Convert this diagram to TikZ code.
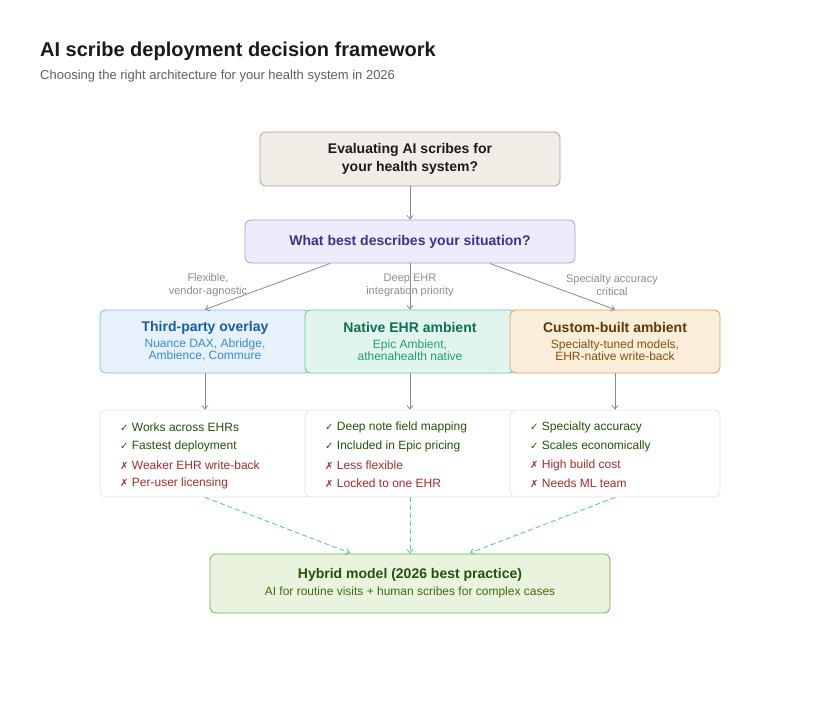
\documentclass[tikz,border=0pt]{standalone}
\usepackage{fontspec}
\setmainfont{Liberation Sans}
\newfontfamily\symf{DejaVu Sans}
\usetikzlibrary{arrows.meta}
\definecolor{tbfill}{HTML}{F0EDE6}\definecolor{tbdraw}{HTML}{A8A29A}
\definecolor{qfill}{HTML}{EEEBFD}\definecolor{qdraw}{HTML}{A59BE8}\definecolor{qtext}{HTML}{3C3489}
\definecolor{bfill}{HTML}{E6F1FB}\definecolor{bdraw}{HTML}{85B7EB}\definecolor{btit}{HTML}{185FA5}\definecolor{bsub}{HTML}{378ADD}
\definecolor{gfill}{HTML}{E1F5EE}\definecolor{gdraw}{HTML}{5DCAA5}\definecolor{gtit}{HTML}{0F6E56}\definecolor{gsub}{HTML}{1D9E75}
\definecolor{ofill}{HTML}{FAEEDA}\definecolor{odraw}{HTML}{D9A05A}\definecolor{otit}{HTML}{633806}\definecolor{osub}{HTML}{854F0B}
\definecolor{hfill}{HTML}{EAF3DE}\definecolor{hdraw}{HTML}{7BAE4E}\definecolor{htit}{HTML}{27500A}\definecolor{hsub}{HTML}{3B6D11}
\definecolor{lbord}{HTML}{E5E5E0}\definecolor{okc}{HTML}{27500A}\definecolor{noc}{HTML}{A32D2D}
\definecolor{arr}{HTML}{8A8A8A}\definecolor{lab}{HTML}{8C8C8C}\definecolor{subt}{HTML}{5F5E5A}\definecolor{ttl}{HTML}{1A1A1A}
\tikzset{
 box/.style={draw, rounded corners=6pt, line width=0.8pt, align=center, inner sep=0pt},
 conn/.style={draw=arr, line width=0.8pt, -{Straight Barb[length=3.5pt,width=6pt]}},
 dconn/.style={draw=gdraw, line width=0.9pt, dashed, dash pattern=on 5pt off 3pt, -{Straight Barb[length=3.5pt,width=6pt]}},
 elab/.style={text=lab, font=\fontsize{11}{13}\selectfont, align=center},
 litem/.style={anchor=west, font=\fontsize{12}{14}\selectfont, inner sep=0pt}
}
\newcommand{\ok}[1]{\textcolor{okc}{{\symf\fontsize{10}{12}\selectfont ✓} #1}}
\newcommand{\no}[1]{\textcolor{noc}{{\symf\fontsize{10}{12}\selectfont ✗} #1}}
\begin{document}
\begin{tikzpicture}[x=1pt,y=-1pt]
\useasboundingbox (0,0) rectangle (820,702);
\node[anchor=west, text=ttl, font=\bfseries\fontsize{20}{24}\selectfont, inner sep=0pt] (title) at (40,51) {AI scribe deployment decision framework};
\node[anchor=west, text=subt, font=\fontsize{13}{15}\selectfont, inner sep=0pt] (sub) at (40,76) {Choosing the right architecture for your health system in 2026};

\node[box, fill=tbfill, draw=tbdraw, minimum width=300pt, minimum height=54pt, text=ttl, font=\bfseries\fontsize{14}{18}\selectfont] (top) at (410,159) {Evaluating AI scribes for\\your health system?};
\node[box, fill=qfill, draw=qdraw, minimum width=330pt, minimum height=43pt, text=qtext, font=\bfseries\fontsize{14}{17}\selectfont] (q) at (410,241.5) {What best describes your situation?};

\node[box, fill=bfill, draw=bdraw, minimum width=210pt, minimum height=63pt] (b1) at (205,341.5) {\textcolor{btit}{\bfseries\fontsize{14}{17}\selectfont Third-party overlay}\\[4pt]\textcolor{bsub}{\fontsize{12}{15}\selectfont Nuance DAX, Abridge,}\\\textcolor{bsub}{\fontsize{12}{15}\selectfont Ambience, Commure}};
\node[box, fill=gfill, draw=gdraw, minimum width=210pt, minimum height=63pt] (b2) at (410,341.5) {\textcolor{gtit}{\bfseries\fontsize{14}{17}\selectfont Native EHR ambient}\\[4pt]\textcolor{gsub}{\fontsize{12}{15}\selectfont Epic Ambient,}\\\textcolor{gsub}{\fontsize{12}{15}\selectfont athenahealth native}};
\node[box, fill=ofill, draw=odraw, minimum width=210pt, minimum height=63pt] (b3) at (615,341.5) {\textcolor{otit}{\bfseries\fontsize{14}{17}\selectfont Custom-built ambient}\\[4pt]\textcolor{osub}{\fontsize{12}{15}\selectfont Specialty-tuned models,}\\\textcolor{osub}{\fontsize{12}{15}\selectfont EHR-native write-back}};

\node[box, fill=white, draw=lbord, minimum width=210pt, minimum height=87pt] (l1) at (205,453.5) {};
\node[box, fill=white, draw=lbord, minimum width=210pt, minimum height=87pt] (l2) at (410,453.5) {};
\node[box, fill=white, draw=lbord, minimum width=210pt, minimum height=87pt] (l3) at (615,453.5) {};
\node[litem] (l1a) at (120,427) {\ok{Works across EHRs}};
\node[litem] (l1b) at (120,446) {\ok{Fastest deployment}};
\node[litem] (l1c) at (120,465) {\no{Weaker EHR write-back}};
\node[litem] (l1d) at (120,483) {\no{Per-user licensing}};
\node[litem] (l2a) at (325,427) {\ok{Deep note field mapping}};
\node[litem] (l2b) at (325,446) {\ok{Included in Epic pricing}};
\node[litem] (l2c) at (325,465) {\no{Less flexible}};
\node[litem] (l2d) at (325,483) {\no{Locked to one EHR}};
\node[litem] (l3a) at (530,427) {\ok{Specialty accuracy}};
\node[litem] (l3b) at (530,446) {\ok{Scales economically}};
\node[litem] (l3c) at (530,465) {\no{High build cost}};
\node[litem] (l3d) at (530,483) {\no{Needs ML team}};

\node[box, fill=hfill, draw=hdraw, minimum width=400pt, minimum height=59pt] (h) at (410,583.5) {\textcolor{htit}{\bfseries\fontsize{14}{17}\selectfont Hybrid model (2026 best practice)}\\[5pt]\textcolor{hsub}{\fontsize{12}{15}\selectfont AI for routine visits + human scribes for complex cases}};

\coordinate (qa) at (330,263.5); \coordinate (qc) at (490,263.5);
\coordinate (b1t) at (205,309.5); \coordinate (b3t) at (615,309.5);
\draw[conn] (top.south) -- (q.north);
\draw[conn] (qa) -- (b1t);
\draw[conn] (q.south) -- (b2.north);
\draw[conn] (qc) -- (b3t);
\draw[conn] (b1.south) -- (l1.north);
\draw[conn] (b2.south) -- (l2.north);
\draw[conn] (b3.south) -- (l3.north);
\coordinate (h1) at (350,553); \coordinate (h3) at (470,553);
\draw[dconn] (l1.south) -- (h1);
\draw[dconn] (l2.south) -- (h.north);
\draw[dconn] (l3.south) -- (h3);

\node[elab] (e1) at (208,285) {Flexible,\\vendor-agnostic};
\node[elab] (e2) at (410,285) {Deep EHR\\integration priority};
\node[elab] (e3) at (612,285) {Specialty accuracy\\critical};
\end{tikzpicture}
\end{document}
